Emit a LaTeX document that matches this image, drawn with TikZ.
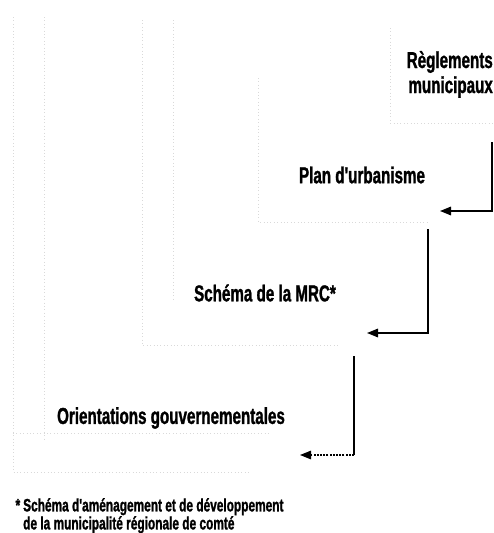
\documentclass[tikz,border=0pt]{standalone}
\usepackage{fontspec}
\setmainfont{Liberation Sans}
\newfontfamily\condfont[FakeStretch=0.66,FakeBold=1.2]{Liberation Sans Bold}
\newfontfamily\notefont[FakeStretch=0.66,FakeBold=1.2]{Liberation Sans Bold}
\usetikzlibrary{arrows.meta}
\tikzset{
  label/.style={font=\condfont\fontsize{23}{25}\selectfont, inner sep=0pt, text=black},
  note/.style={font=\notefont\fontsize{18}{17}\selectfont, inner sep=0pt, text=black, align=left, anchor=north west},
  link/.style={line width=1.6pt, -{Triangle[length=11pt,width=8.5pt]}},
  faint/.style={draw=gray!30, line width=0.7pt, dash pattern=on 0.8pt off 2.6pt}
}
\begin{document}
\begin{tikzpicture}[x=1pt,y=-1pt]
\useasboundingbox (0,0) rectangle (493,533);
% faint staircase boxes (scan remnants)
\draw[faint] (13,17) -- (13,472) -- (250,472);
\draw[faint] (44,17) -- (44,440);
\draw[faint] (13,433) -- (270,433);
\draw[faint] (142,20) -- (142,345) -- (340,345);
\draw[faint] (173,20) -- (173,300);
\draw[faint] (258,78) -- (258,222) -- (430,222);
\draw[faint] (390,28) -- (390,123) -- (493,123);
% texts
\node[label, anchor=base east] (regl) at (493,68) {Règlements};
\node[label, anchor=base east] (munic) at (493,93) {municipaux};
\node[label] (plan) at (362,175) {Plan d'urbanisme};
\node[label] (mrc) at (265,293) {Schéma de la MRC*};
\node[label] (orient) at (171,418) {Orientations gouvernementales};
\node[note] (foot) at (23,498) {\llap{*\,}Schéma d'aménagement et de développement\\de la municipalité régionale de comté};
% connectors
\coordinate (s1) at (492,142);
\coordinate (t1) at (440,211);
\coordinate (s2) at (428,229);
\coordinate (t2) at (367,333);
\coordinate (s3) at (354,356);
\coordinate (t3) at (300,455);
\draw[link] (s1) |- (t1);
\draw[link] (s2) |- (t2);
\draw[line width=1.6pt] (s3) -- (s3 |- t3);
\draw[line width=1.2pt, dash pattern=on 2pt off 1.2pt, -{Triangle[length=11pt,width=8.5pt]}] (s3 |- t3) -- (t3);
\end{tikzpicture}
\end{document}
